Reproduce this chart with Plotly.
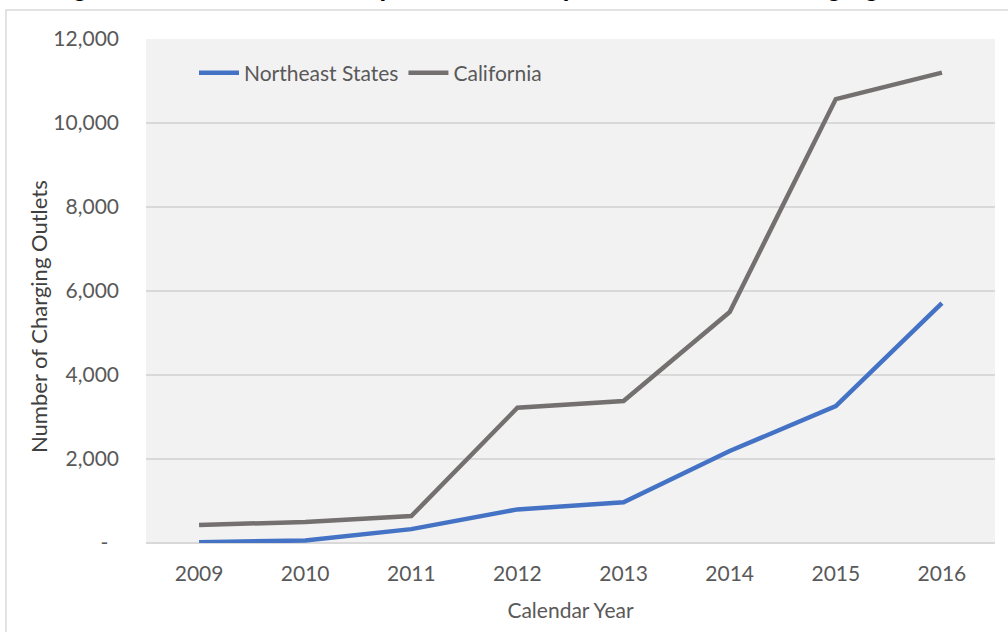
import plotly.graph_objects as go

years = ["2009", "2010", "2011", "2012", "2013", "2014", "2015", "2016"]
northeast = [20, 60, 330, 800, 970, 2190, 3260, 5710]
california = [430, 500, 640, 3220, 3380, 5500, 10570, 11200]
ytick_vals = [0, 2000, 4000, 6000, 8000, 10000, 12000]
ytick_text = ["-\u00a0\u00a0", "2,000", "4,000", "6,000", "8,000", "10,000", "12,000"]
title_text = "Figure 3: Number of Public (Level 2 and DC) Electric Vehicle Charging Outlets"

W, H = 1008, 632
L, R, T, B = 146, 13, 39, 89
pw, ph = W - L - R, H - T - B

def px(x):
    return (x - L) / pw

def py(y):
    return (H - B - y) / ph

FONT = "Lato"
GREY_TXT = "#595959"
FS = 21

fig = go.Figure()
fig.add_trace(go.Scatter(x=years, y=northeast, mode="lines", name="Northeast States",
                         line=dict(color="#4472C4", width=4.5)))
fig.add_trace(go.Scatter(x=years, y=california, mode="lines", name="California",
                         line=dict(color="#747070", width=4.5)))

fig.update_layout(
    width=W, height=H,
    margin=dict(l=L, r=R, t=T, b=B),
    paper_bgcolor="white",
    plot_bgcolor="#f2f2f2",
    font=dict(family=FONT, size=FS, color=GREY_TXT),
    showlegend=True,
    legend=dict(orientation="h", x=px(194), y=py(73), xanchor="left", yanchor="middle",
                bgcolor="rgba(0,0,0,0)", font=dict(size=FS, color=GREY_TXT),
                itemwidth=40, tracegroupgap=0),
    xaxis=dict(type="category", range=[-0.5, 7.5], showgrid=False, zeroline=False,
               showline=False, ticks="", ticklabelstandoff=16,
               tickfont=dict(size=FS, color=GREY_TXT),
               title=dict(text="Calendar Year", font=dict(size=FS, color=GREY_TXT), standoff=19)),
    yaxis=dict(range=[0, 12000], tickvals=ytick_vals, ticktext=ytick_text,
               showgrid=True, gridcolor="#d9d9d9", gridwidth=1.5,
               zeroline=True, zerolinecolor="#d9d9d9", zerolinewidth=1.5,
               showline=False, ticks="", ticklabelstandoff=26,
               tickfont=dict(size=FS, color=GREY_TXT)),
)

fig.add_annotation(text="Number of Charging Outlets", xref="paper", yref="paper",
                   x=px(38), y=py(317), showarrow=False, textangle=-90,
                   xanchor="center", yanchor="middle",
                   font=dict(size=22, color="#404040", family=FONT))

fig.add_annotation(text="<b>" + title_text + "</b>", xref="paper", yref="paper",
                   x=px(48), y=py(-13), showarrow=False, xanchor="left", yanchor="middle",
                   font=dict(size=25, color="black", family="Liberation Sans"))

fig.add_shape(type="rect", xref="paper", yref="paper",
              x0=px(6), y0=py(700), x1=px(1100), y1=py(10),
              line=dict(color="#d9d9d9", width=1.5), fillcolor="rgba(0,0,0,0)", layer="below")

fig.write_html("out.html")
